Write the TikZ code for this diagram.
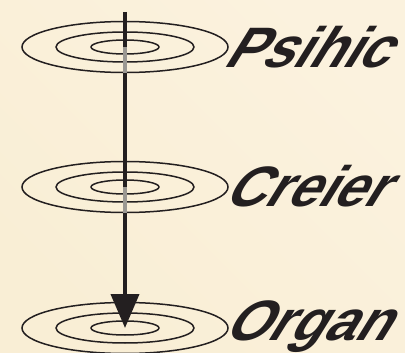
\documentclass[tikz,border=0pt]{standalone}
\usepackage{fontspec}
\usetikzlibrary{arrows.meta,shapes.geometric}
\newfontfamily\lab[FakeSlant=0.62,FakeStretch=0.98]{Liberation Sans}
\definecolor{bg}{HTML}{F9EED5}
\definecolor{bgl}{HTML}{FBF2DE}
\definecolor{ink}{HTML}{231F20}
\definecolor{hid}{HTML}{9B9893}
\begin{document}
\begin{tikzpicture}[x=1pt,y=-1pt,
  ring/.style={ellipse, draw=ink, line width=1.5pt, inner sep=0pt},
  ringA/.style={ring, minimum width=206pt, minimum height=51pt},
  ringB/.style={ring, minimum width=138pt, minimum height=30pt},
  ringC/.style={ring, minimum width=68pt, minimum height=14pt},
  label/.style={anchor=base west, inner sep=0pt, text=ink, font=\lab\bfseries\fontsize{57}{61}\selectfont},
  shaft/.style={draw=ink, line width=4pt},
  behind/.style={draw=hid, line width=4pt}]
\shade[left color=bg, right color=bgl, shading angle=135] (0,0) rectangle (405,353);
\useasboundingbox (0,0) rectangle (405,353);
% level centres
\coordinate (c1) at (125,47);
\coordinate (c2) at (125,187);
\coordinate (c3) at (125,328);
\coordinate (top) at (125,12);
% rings
\foreach \c in {1,2,3}{
  \node[ringA] (a\c) at (c\c) {};
  \node[ringB] (b\c) at (c\c) {};
  \node[ringC] (i\c) at (c\c) {};
}
% arrow
\draw[shaft, -{Triangle[length=34pt,width=28pt]}] (top) -- (c3);
% hidden parts of shaft
\draw[behind] (c1) -- (a1.south);
\draw[behind] (c2) -- (a2.south);
% labels
\node[label] (t1) at (222,68) {Psihic};
\node[label] (t2) at (222,207) {Creier};
\node[label] (t3) at (222,340) {Organ};
\end{tikzpicture}
\end{document}
